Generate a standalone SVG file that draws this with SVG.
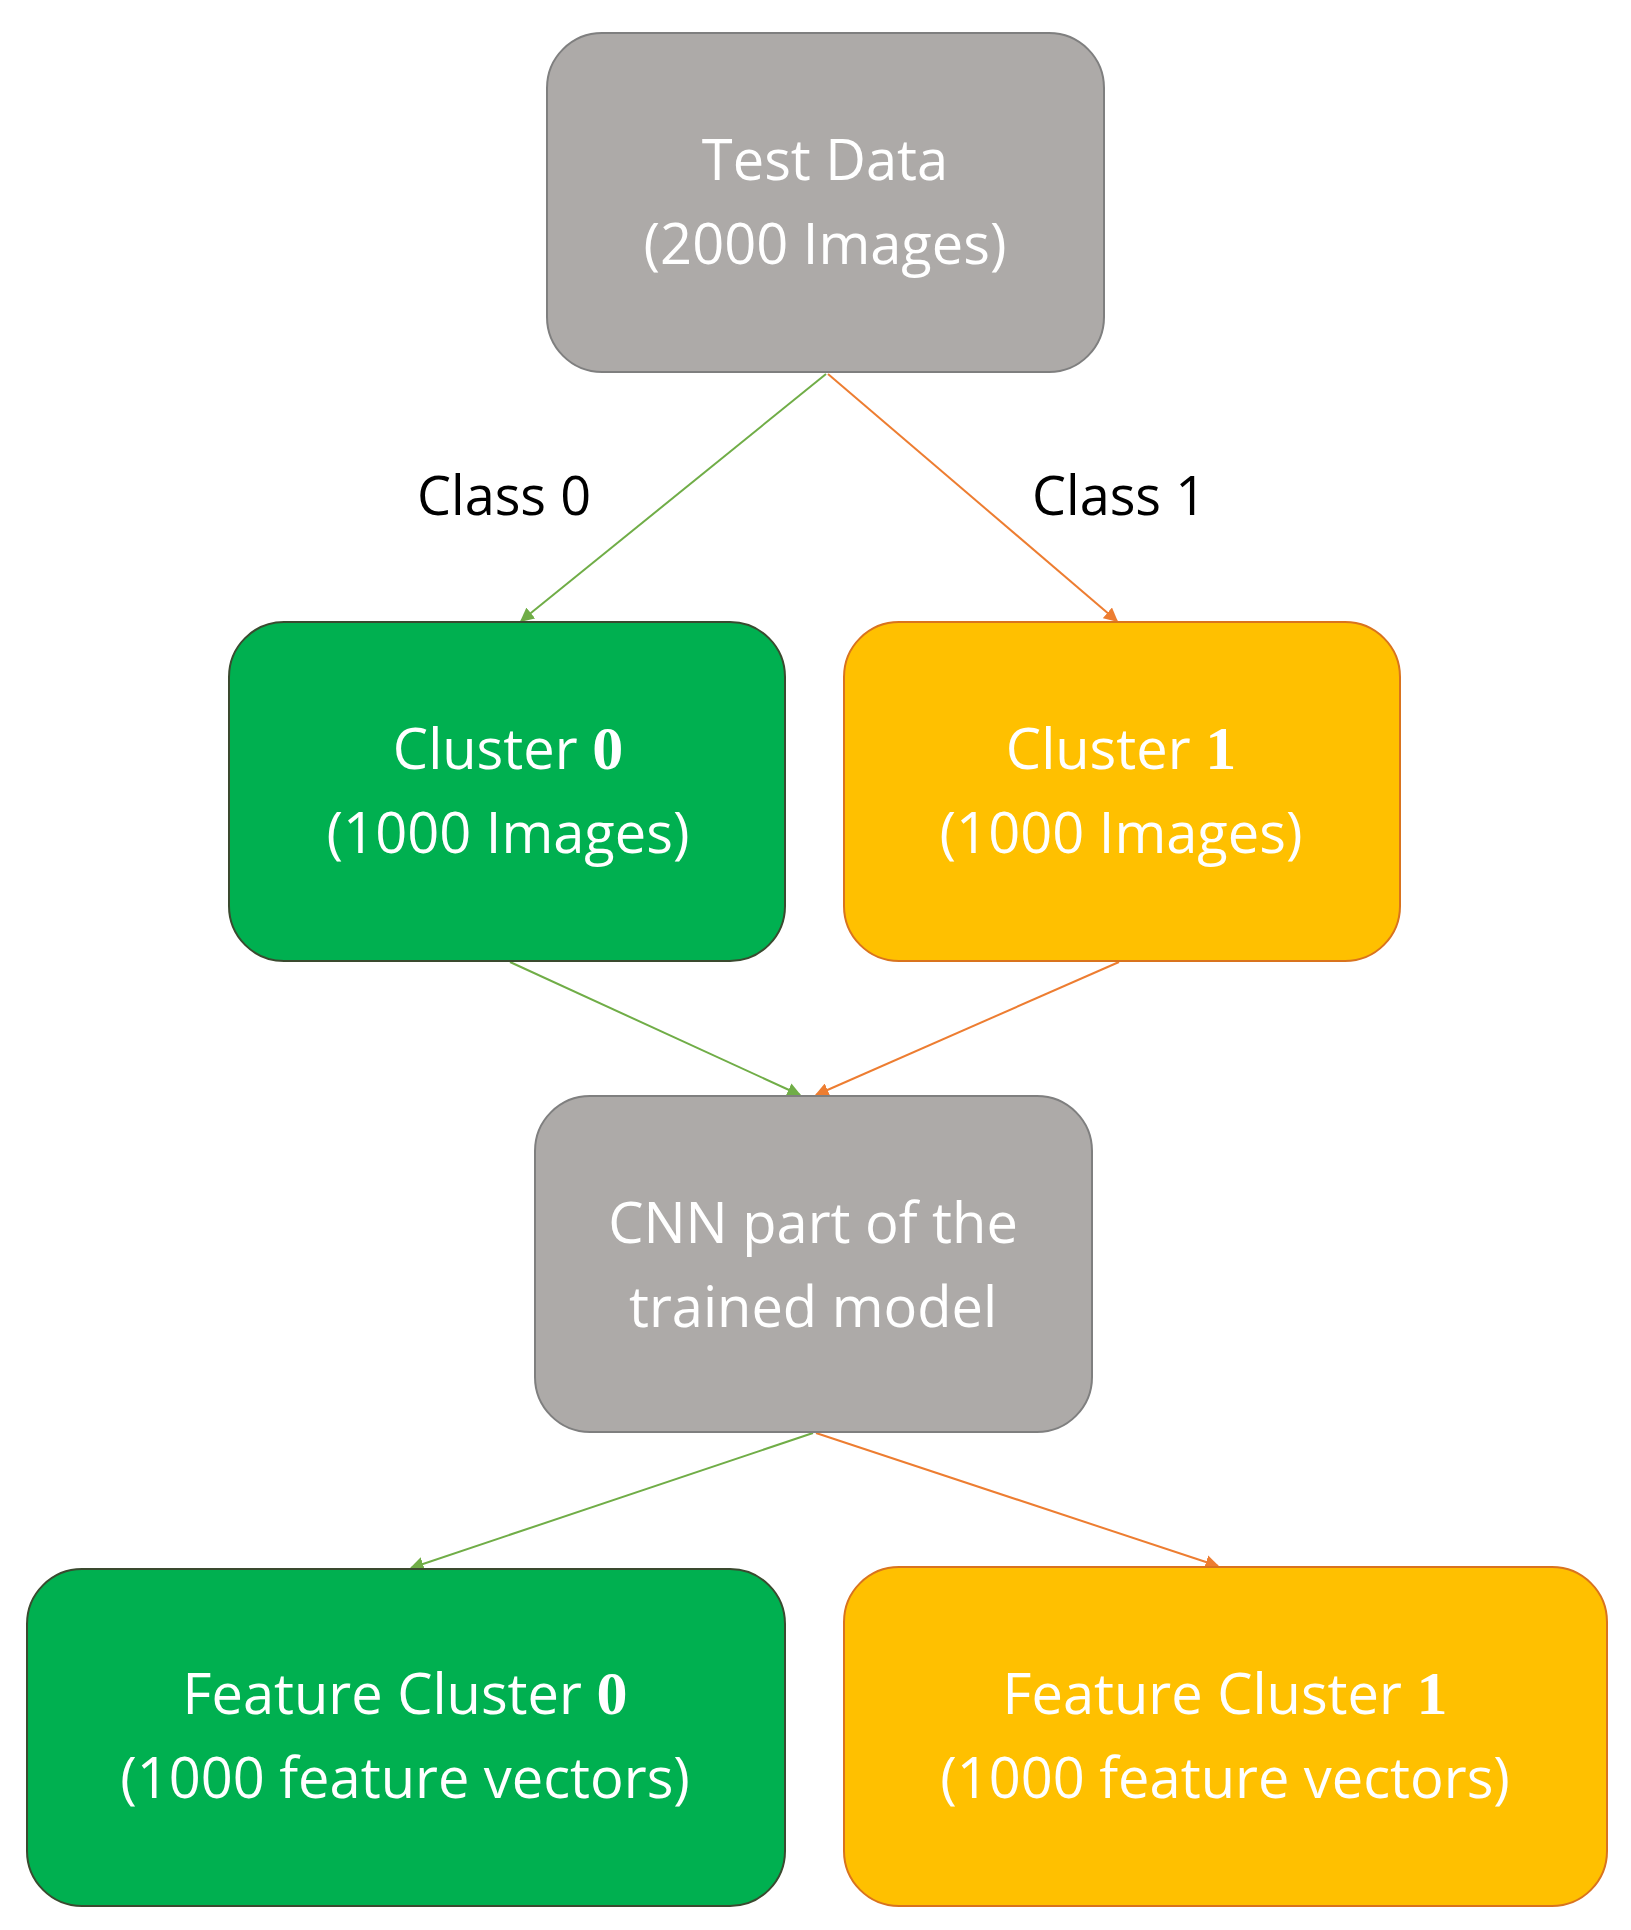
<svg xmlns="http://www.w3.org/2000/svg" width="1631" height="1930" viewBox="0 0 1631 1930">
<style>
.g{fill:#ADAAA8;stroke:#7f7f7f;stroke-width:2}
.gr{fill:#00B050;stroke:#3a4a2f;stroke-width:2}
.y{fill:#FFC000;stroke:#d9731e;stroke-width:2}
text{font-family:"Open Sans","Liberation Sans",sans-serif;font-size:56px;fill:#fff;text-anchor:middle}
.m{font-family:"Liberation Serif",serif;font-weight:bold;font-size:62px}
.lbl{fill:#000;font-size:54px}
.lg{stroke:#70AD47;stroke-width:2;fill:none}
.lo{stroke:#ED7D31;stroke-width:2;fill:none}
</style>
<defs>
<marker id="ag" viewBox="0 0 10 10" refX="9" refY="5" markerWidth="7" markerHeight="7" orient="auto"><path d="M0,0L10,5L0,10z" fill="#70AD47"/></marker>
<marker id="ao" viewBox="0 0 10 10" refX="9" refY="5" markerWidth="7" markerHeight="7" orient="auto"><path d="M0,0L10,5L0,10z" fill="#ED7D31"/></marker>
</defs>
<rect width="1631" height="1930" fill="#fff"/>
<g id="connectors">
<line class="lg" x1="826" y1="374" x2="521" y2="621" marker-end="url(#ag)"/>
<line class="lo" x1="828" y1="374" x2="1117" y2="621" marker-end="url(#ao)"/>
<line class="lg" x1="510" y1="962" x2="800" y2="1095" marker-end="url(#ag)"/>
<line class="lo" x1="1119" y1="962" x2="816" y2="1095" marker-end="url(#ao)"/>
<line class="lg" x1="813" y1="1433" x2="411" y2="1568" marker-end="url(#ag)"/>
<line class="lo" x1="816" y1="1433" x2="1218" y2="1566" marker-end="url(#ao)"/>
<text class="lbl" x="504" y="515">Class 0</text>
<text class="lbl" x="1119" y="515">Class 1</text>
</g>
<g id="test"><rect class="g" x="547" y="33" width="557" height="339" rx="55"/>
<text x="825" y="180">Test Data</text><text x="825" y="264">(2000 Images)</text></g>
<g id="c0"><rect class="gr" x="229" y="622" width="556" height="339" rx="55"/>
<text x="508" y="769">Cluster <tspan class="m">0</tspan></text><text x="508" y="853">(1000 Images)</text></g>
<g id="c1"><rect class="y" x="844" y="622" width="556" height="339" rx="55"/>
<text x="1121" y="769">Cluster <tspan class="m">1</tspan></text><text x="1121" y="853">(1000 Images)</text></g>
<g id="cnn"><rect class="g" x="535" y="1096" width="557" height="336" rx="55"/>
<text x="813" y="1243">CNN part of the</text><text x="813" y="1327">trained model</text></g>
<g id="f0"><rect class="gr" x="27" y="1569" width="758" height="337" rx="55"/>
<text x="405" y="1714">Feature Cluster <tspan class="m">0</tspan></text><text x="405" y="1798">(1000 feature vectors)</text></g>
<g id="f1"><rect class="y" x="844" y="1567" width="763" height="339" rx="55"/>
<text x="1225" y="1714">Feature Cluster <tspan class="m">1</tspan></text><text x="1225" y="1798">(1000 feature vectors)</text></g>
</svg>
